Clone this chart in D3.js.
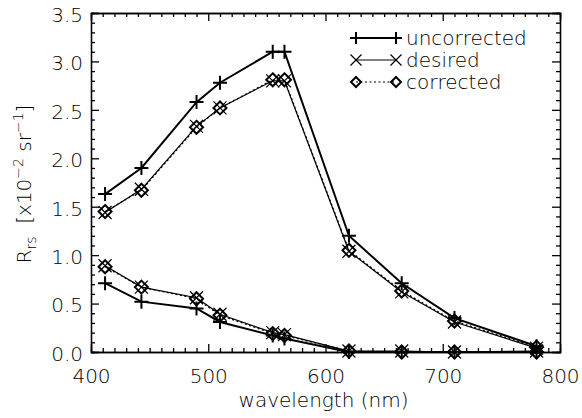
<!DOCTYPE html>
<html>
<head>
<meta charset="utf-8">
<script src="https://cdn.jsdelivr.net/npm/d3@7"></script>
<style>
  body { margin: 0; background: #fff; }
  svg { display: block; }
  svg text { font-family: "DejaVu Sans", sans-serif; font-weight: 200; fill: #000; }
  .axis path, .axis line { stroke: #000; stroke-width: 1.3; }
  .axis text { font-size: 20px; }
</style>
</head>
<body>
<figure id="chart" style="margin:0"></figure>
<script>
// wavelengths (nm)
const wavelengths = [412, 443, 490, 510, 555, 565, 620, 665, 710, 780];

// upper spectrum
const uncorrHigh = [1.63, 1.90, 2.58, 2.78, 3.10, 3.10, 1.20, 0.71, 0.35, 0.06];
const desiredHigh = [1.44, 1.68, 2.33, 2.52, 2.80, 2.80, 1.04, 0.62, 0.31, 0.04];
const corrHigh = [1.45, 1.67, 2.32, 2.52, 2.81, 2.81, 1.05, 0.63, 0.32, 0.05];

// lower spectrum
const uncorrLow = [0.71, 0.52, 0.45, 0.31, 0.17, 0.14, 0.00, 0.00, 0.00, 0.00];
const desiredLow = [0.89, 0.67, 0.56, 0.39, 0.20, 0.18, 0.01, 0.01, 0.00, 0.01];
const corrLow = [0.88, 0.67, 0.55, 0.38, 0.19, 0.17, 0.01, 0.00, 0.00, 0.00];

const xTicks = [400, 500, 600, 700, 800];
const yTicks = [0.0, 0.5, 1.0, 1.5, 2.0, 2.5, 3.0, 3.5];
const legendLabels = ['uncorrected', 'desired', 'corrected'];

const width = 582;
const height = 418;
const plotLeft = 91, plotRight = 560, plotTop = 13, plotBottom = 352;

const svg = d3.select('figure#chart')
    .append('svg')
    .attr('width', width)
    .attr('height', height);

svg.append('rect').attr('width', width).attr('height', height).attr('fill', '#fff');

const x = d3.scaleLinear().domain([400, 800]).range([plotLeft, plotRight]);
const y = d3.scaleLinear().domain([0, 3.5]).range([plotBottom, plotTop]);

const xMinor = d3.range(400, 801, 10).filter(v => v % 100 !== 0);
const yMinor = d3.range(0, 36, 1).map(v => v / 10).filter(v => Math.round(v * 10) % 5 !== 0);

// bottom axis
svg.append('g').attr('class', 'axis')
    .attr('transform', 'translate(0,' + plotBottom + ')')
    .call(d3.axisBottom(x).tickValues(xTicks).tickSize(-8).tickPadding(17).tickFormat(d3.format('d')));
svg.append('g').attr('class', 'axis')
    .attr('transform', 'translate(0,' + plotBottom + ')')
    .call(d3.axisBottom(x).tickValues(xMinor).tickSize(-4).tickFormat(''));
// top axis
svg.append('g').attr('class', 'axis')
    .attr('transform', 'translate(0,' + plotTop + ')')
    .call(d3.axisTop(x).tickValues(xTicks).tickSize(-8).tickFormat(''));
svg.append('g').attr('class', 'axis')
    .attr('transform', 'translate(0,' + plotTop + ')')
    .call(d3.axisTop(x).tickValues(xMinor).tickSize(-4).tickFormat(''));
// left axis
svg.append('g').attr('class', 'axis')
    .attr('transform', 'translate(' + plotLeft + ',0)')
    .call(d3.axisLeft(y).tickValues(yTicks).tickSize(-8).tickPadding(8).tickFormat(d3.format('.1f')))
    .selectAll('text').attr('dy', '0.42em');
svg.append('g').attr('class', 'axis')
    .attr('transform', 'translate(' + plotLeft + ',0)')
    .call(d3.axisLeft(y).tickValues(yMinor).tickSize(-4).tickFormat(''));
// right axis
svg.append('g').attr('class', 'axis')
    .attr('transform', 'translate(' + plotRight + ',0)')
    .call(d3.axisRight(y).tickValues(yTicks).tickSize(-8).tickFormat(''));
svg.append('g').attr('class', 'axis')
    .attr('transform', 'translate(' + plotRight + ',0)')
    .call(d3.axisRight(y).tickValues(yMinor).tickSize(-4).tickFormat(''));

svg.selectAll('.axis .domain').attr('stroke-width', 1.5);

// marker shapes
const markers = {
  plus: 'M-7,0H7M0,-7V7',
  cross: 'M-6.5,-6.5L6.5,6.5M-6.5,6.5L6.5,-6.5',
  diamond: 'M0,-6.5L6.5,0L0,6.5L-6.5,0Z'
};
const legendMarkers = {
  plus: 'M-6,0H6M0,-6V6',
  cross: 'M-5.5,-5.5L5.5,5.5M-5.5,5.5L5.5,-5.5',
  diamond: 'M0,-5L5,0L0,5L-5,0Z'
};

const styles = [
  { name: 'uncorrected', marker: 'plus', width: 2, dash: null, mw: 2 },
  { name: 'desired', marker: 'cross', width: 1.2, dash: null, mw: 1.2 },
  { name: 'corrected', marker: 'diamond', width: 1.2, dash: '2,2.5', mw: 2 }
];

const line = d3.line()
    .x(d => x(d[0]))
    .y(d => y(d[1]));

function drawSeries(values, style) {
  const pts = wavelengths.map((w, i) => [w, values[i]]);
  svg.append('path')
      .datum(pts)
      .attr('d', line)
      .attr('fill', 'none')
      .attr('stroke', '#000')
      .attr('stroke-width', style.width)
      .attr('stroke-dasharray', style.dash);
  svg.selectAll(null)
      .data(pts)
      .enter()
      .append('path')
      .attr('transform', d => 'translate(' + x(d[0]) + ',' + y(d[1]) + ')')
      .attr('d', markers[style.marker])
      .attr('fill', 'none')
      .attr('stroke', '#000')
      .attr('stroke-width', style.mw);
}

drawSeries(desiredHigh, styles[1]);
drawSeries(desiredLow, styles[1]);
drawSeries(corrHigh, styles[2]);
drawSeries(corrLow, styles[2]);
drawSeries(uncorrHigh, styles[0]);
drawSeries(uncorrLow, styles[0]);

// legend
const legend = svg.append('g');
const rowY = [38, 60, 82];
styles.forEach((s, i) => {
  const g = legend.append('g').attr('transform', 'translate(0,' + rowY[i] + ')');
  g.append('line')
      .attr('x1', 356).attr('x2', 396)
      .attr('stroke', '#000')
      .attr('stroke-width', s.width)
      .attr('stroke-dasharray', s.dash);
  [356, 396].forEach(px => {
    g.append('path')
        .attr('transform', 'translate(' + px + ',0)')
        .attr('d', legendMarkers[s.marker])
        .attr('fill', 'none')
        .attr('stroke', '#000')
        .attr('stroke-width', s.mw);
  });
  g.append('text')
      .attr('x', 406)
      .attr('y', 7)
      .attr('font-size', 20)
      .text(legendLabels[i]);
});

// axis titles
svg.append('text')
    .attr('x', (plotLeft + plotRight) / 2 - 2)
    .attr('y', 407)
    .attr('text-anchor', 'middle')
    .attr('font-size', 20)
    .text('wavelength (nm)');

const yl = svg.append('text')
    .attr('transform', 'translate(31,184) rotate(-90)')
    .attr('text-anchor', 'middle')
    .attr('font-size', 20)
    .style('white-space', 'pre');
yl.append('tspan').text('R');
yl.append('tspan').attr('font-size', 14).attr('dy', 5).text('rs');
yl.append('tspan').attr('dy', -5).text('  [x10');
yl.append('tspan').attr('font-size', 14).attr('dy', -8).text('−2');
yl.append('tspan').attr('dy', 8).text(' sr');
yl.append('tspan').attr('font-size', 14).attr('dy', -8).text('−1');
yl.append('tspan').attr('dy', 8).text(']');
</script>
</body>
</html>
